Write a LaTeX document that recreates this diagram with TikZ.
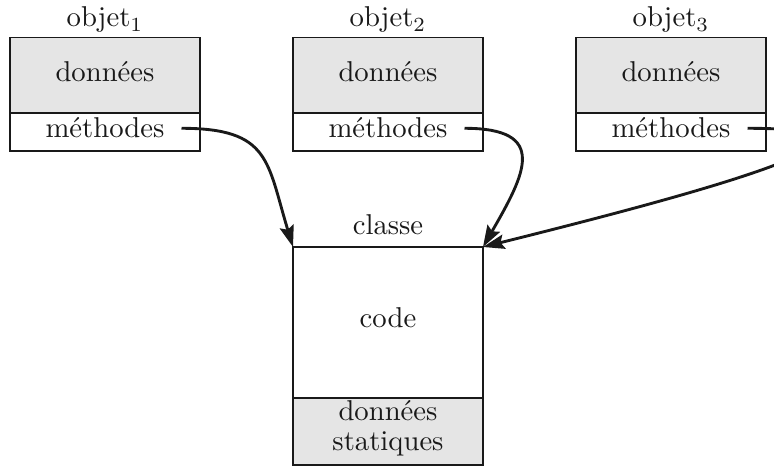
\documentclass[tikz,border=0pt]{standalone}
\usetikzlibrary{arrows.meta,calc}
\begin{document}
\begin{tikzpicture}[x=0.3485pt,y=0.3485pt,
  cell/.style={draw=black!90,line width=0.5pt,outer sep=0pt,inner sep=0pt,
    minimum width=66.2pt},
  datacell/.style={cell,fill=black!10,minimum height=26.3pt},
  methcell/.style={cell,minimum height=13.24pt},
  codecell/.style={cell,minimum height=52.62pt},
  statcell/.style={cell,fill=black!10,minimum height=23.35pt},
  txt/.style={anchor=base,inner sep=0pt,text=black!90},
  conn/.style={line width=1pt,draw=black!90,
    -{Stealth[length=7.5pt,width=5pt,inset=1.2pt]}}]
\useasboundingbox (0,0) rectangle (774,466);
\clip (0,0) rectangle (774,466);
% objects
\foreach \i/\cx in {1/105,2/388,3/671}{
  \node[datacell] (d\i) at (\cx,390.75) {};
  \node[methcell] (m\i) at (\cx,334) {};
  \node[txt] (lt\i) at (\cx,439) {objet$_\i$};
  \node[txt] (dt\i) at (\cx,384) {données};
  \node[txt] (mt\i) at (\cx,328.5) {méthodes};
  \coordinate (s\i) at ($(m\i.center)+(76.5,3.7)$);
}
% class
\node[codecell] (cls) at (388,143.5) {};
\node[statcell] (st) at (388,34.5) {};
\node[txt] (clst) at (388,231) {classe};
\node[txt] (codet) at (388,138) {code};
\node[txt] (st1) at (388,45) {données};
\node[txt] (st2) at (388,15) {statiques};
% connectors
\draw[conn] (s1) to[out=0,in=107,looseness=1.4] (cls.north west);
\draw[conn] (s2) to[out=0,in=60,looseness=1.8] (cls.north east);
\draw[conn] (s3) to[out=0,in=14,looseness=1.75] (cls.north east);
\end{tikzpicture}
\end{document}
